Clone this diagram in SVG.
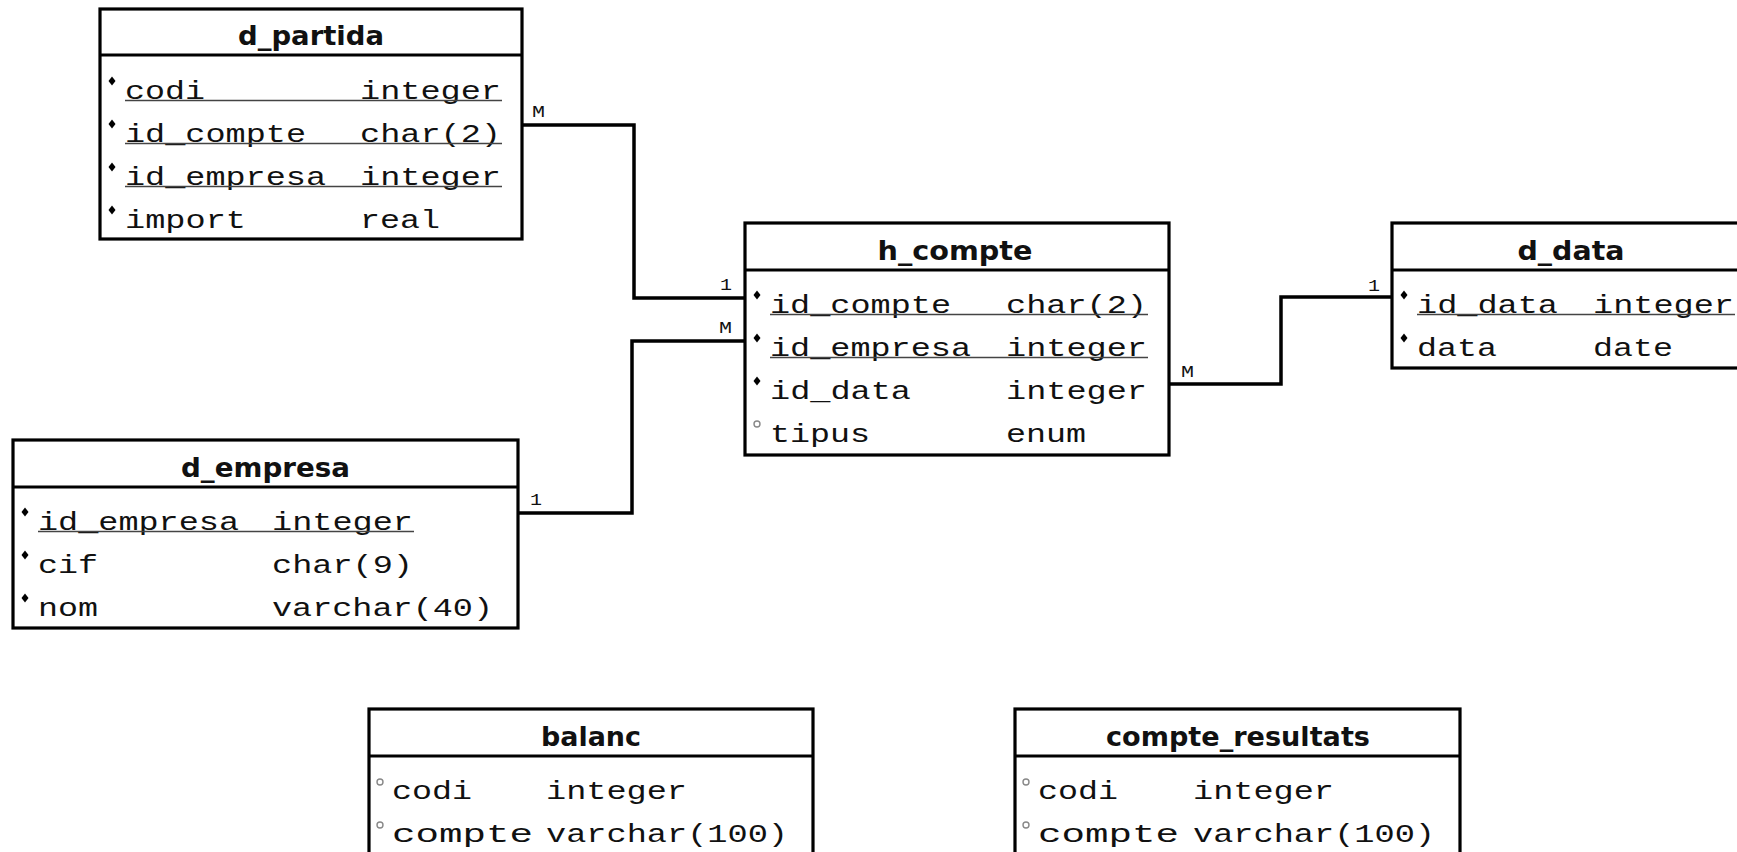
<svg xmlns="http://www.w3.org/2000/svg" width="1737" height="852" viewBox="0 0 1737 852">
<style>
.box{fill:#fff;stroke:#000;stroke-width:3.2}
.div{stroke:#000;stroke-width:3.2}
.hdr{font-family:"DejaVu Sans",sans-serif;font-weight:bold;font-size:26px;fill:#111}
.f{font-family:"Liberation Mono","DejaVu Sans Mono",monospace;font-size:25px;fill:#111}
.ul{stroke:#444;stroke-width:1.6}
.con{fill:none;stroke:#000;stroke-width:3.5}
.lbl{font-family:"Liberation Mono","DejaVu Sans Mono",monospace;font-size:17px;fill:#111}
</style>
<defs>
<polygon id="mand" points="0,-4.5 3.5,0 0,4.5 -3.5,0" fill="#000"/>
<circle id="opt" r="3" fill="#fff" stroke="#888" stroke-width="1.4"/>
</defs>

<g id="connectors">
<path class="con" d="M522,125 H634 V298 H745"/>
<path class="con" d="M745,341 H632 V513 H518"/>
<path class="con" d="M1169,384 H1281 V297 H1392"/>
<text class="lbl" x="532" y="117" textLength="13" lengthAdjust="spacingAndGlyphs">M</text>
<text class="lbl" x="720" y="290" textLength="12" lengthAdjust="spacingAndGlyphs">1</text>
<text class="lbl" x="719" y="333" textLength="13" lengthAdjust="spacingAndGlyphs">M</text>
<text class="lbl" x="530" y="505" textLength="12" lengthAdjust="spacingAndGlyphs">1</text>
<text class="lbl" x="1181" y="377" textLength="13" lengthAdjust="spacingAndGlyphs">M</text>
<text class="lbl" x="1368" y="291" textLength="12" lengthAdjust="spacingAndGlyphs">1</text>
</g>

<g id="d_partida">
<rect class="box" x="100" y="9" width="422" height="230"/>
<line class="div" x1="100" y1="55" x2="522" y2="55"/>
<text class="hdr" x="311" y="45" text-anchor="middle" textLength="146" lengthAdjust="spacingAndGlyphs">d_partida</text>
<use href="#mand" x="112" y="81"/>
<text class="f" x="125" y="99" textLength="80" lengthAdjust="spacingAndGlyphs">codi</text>
<text class="f" x="360" y="99" textLength="141" lengthAdjust="spacingAndGlyphs">integer</text>
<line class="ul" x1="125" y1="100.5" x2="502" y2="100.5"/>
<use href="#mand" x="112" y="124"/>
<text class="f" x="125" y="142" textLength="181" lengthAdjust="spacingAndGlyphs">id_compte</text>
<text class="f" x="360" y="142" textLength="141" lengthAdjust="spacingAndGlyphs">char(2)</text>
<line class="ul" x1="125" y1="143.5" x2="502" y2="143.5"/>
<use href="#mand" x="112" y="167"/>
<text class="f" x="125" y="185" textLength="201" lengthAdjust="spacingAndGlyphs">id_empresa</text>
<text class="f" x="360" y="185" textLength="141" lengthAdjust="spacingAndGlyphs">integer</text>
<line class="ul" x1="125" y1="186.5" x2="502" y2="186.5"/>
<use href="#mand" x="112" y="210"/>
<text class="f" x="125" y="228" textLength="121" lengthAdjust="spacingAndGlyphs">import</text>
<text class="f" x="360" y="228" textLength="80" lengthAdjust="spacingAndGlyphs">real</text>
</g>

<g id="h_compte">
<rect class="box" x="745" y="223" width="424" height="232"/>
<line class="div" x1="745" y1="270" x2="1169" y2="270"/>
<text class="hdr" x="955" y="260" text-anchor="middle" textLength="155" lengthAdjust="spacingAndGlyphs">h_compte</text>
<use href="#mand" x="757" y="295"/>
<text class="f" x="770" y="313" textLength="181" lengthAdjust="spacingAndGlyphs">id_compte</text>
<text class="f" x="1006" y="313" textLength="141" lengthAdjust="spacingAndGlyphs">char(2)</text>
<line class="ul" x1="770" y1="314.5" x2="1148" y2="314.5"/>
<use href="#mand" x="757" y="338"/>
<text class="f" x="770" y="356" textLength="201" lengthAdjust="spacingAndGlyphs">id_empresa</text>
<text class="f" x="1006" y="356" textLength="141" lengthAdjust="spacingAndGlyphs">integer</text>
<line class="ul" x1="770" y1="357.5" x2="1148" y2="357.5"/>
<use href="#mand" x="757" y="381"/>
<text class="f" x="770" y="399" textLength="141" lengthAdjust="spacingAndGlyphs">id_data</text>
<text class="f" x="1006" y="399" textLength="141" lengthAdjust="spacingAndGlyphs">integer</text>
<use href="#opt" x="757" y="424"/>
<text class="f" x="770" y="442" textLength="100" lengthAdjust="spacingAndGlyphs">tipus</text>
<text class="f" x="1006" y="442" textLength="80" lengthAdjust="spacingAndGlyphs">enum</text>
</g>

<g id="d_data">
<rect class="box" x="1392" y="223" width="360" height="145"/>
<line class="div" x1="1392" y1="270" x2="1752" y2="270"/>
<text class="hdr" x="1571" y="260" text-anchor="middle" textLength="107" lengthAdjust="spacingAndGlyphs">d_data</text>
<use href="#mand" x="1404" y="295"/>
<text class="f" x="1417" y="313" textLength="141" lengthAdjust="spacingAndGlyphs">id_data</text>
<text class="f" x="1593" y="313" textLength="141" lengthAdjust="spacingAndGlyphs">integer</text>
<line class="ul" x1="1417" y1="314.5" x2="1735" y2="314.5"/>
<use href="#mand" x="1404" y="338"/>
<text class="f" x="1417" y="356" textLength="80" lengthAdjust="spacingAndGlyphs">data</text>
<text class="f" x="1593" y="356" textLength="80" lengthAdjust="spacingAndGlyphs">date</text>
</g>

<g id="d_empresa">
<rect class="box" x="13" y="440" width="505" height="188"/>
<line class="div" x1="13" y1="487" x2="518" y2="487"/>
<text class="hdr" x="265.5" y="477" text-anchor="middle" textLength="169" lengthAdjust="spacingAndGlyphs">d_empresa</text>
<use href="#mand" x="25" y="512"/>
<text class="f" x="38" y="530" textLength="201" lengthAdjust="spacingAndGlyphs">id_empresa</text>
<text class="f" x="272" y="530" textLength="141" lengthAdjust="spacingAndGlyphs">integer</text>
<line class="ul" x1="38" y1="531.5" x2="414" y2="531.5"/>
<use href="#mand" x="25" y="555"/>
<text class="f" x="38" y="573" textLength="60" lengthAdjust="spacingAndGlyphs">cif</text>
<text class="f" x="272" y="573" textLength="141" lengthAdjust="spacingAndGlyphs">char(9)</text>
<use href="#mand" x="25" y="598"/>
<text class="f" x="38" y="616" textLength="60" lengthAdjust="spacingAndGlyphs">nom</text>
<text class="f" x="272" y="616" textLength="221" lengthAdjust="spacingAndGlyphs">varchar(40)</text>
</g>

<g id="balanc">
<rect class="box" x="369" y="709" width="444" height="200"/>
<line class="div" x1="369" y1="756" x2="813" y2="756"/>
<text class="hdr" x="591" y="746" text-anchor="middle" textLength="100" lengthAdjust="spacingAndGlyphs">balanc</text>
<use href="#opt" x="380" y="782"/>
<text class="f" x="392" y="799" textLength="80" lengthAdjust="spacingAndGlyphs">codi</text>
<text class="f" x="546" y="799" textLength="141" lengthAdjust="spacingAndGlyphs">integer</text>
<use href="#opt" x="380" y="825"/>
<text class="f" x="392" y="842" textLength="141" lengthAdjust="spacingAndGlyphs">compte</text>
<text class="f" x="546" y="842" textLength="242" lengthAdjust="spacingAndGlyphs">varchar(100)</text>
</g>

<g id="compte_resultats">
<rect class="box" x="1015" y="709" width="445" height="200"/>
<line class="div" x1="1015" y1="756" x2="1460" y2="756"/>
<text class="hdr" x="1238" y="746" text-anchor="middle" textLength="264" lengthAdjust="spacingAndGlyphs">compte_resultats</text>
<use href="#opt" x="1026" y="782"/>
<text class="f" x="1038" y="799" textLength="80" lengthAdjust="spacingAndGlyphs">codi</text>
<text class="f" x="1193" y="799" textLength="141" lengthAdjust="spacingAndGlyphs">integer</text>
<use href="#opt" x="1026" y="825"/>
<text class="f" x="1038" y="842" textLength="141" lengthAdjust="spacingAndGlyphs">compte</text>
<text class="f" x="1193" y="842" textLength="242" lengthAdjust="spacingAndGlyphs">varchar(100)</text>
</g>
</svg>
